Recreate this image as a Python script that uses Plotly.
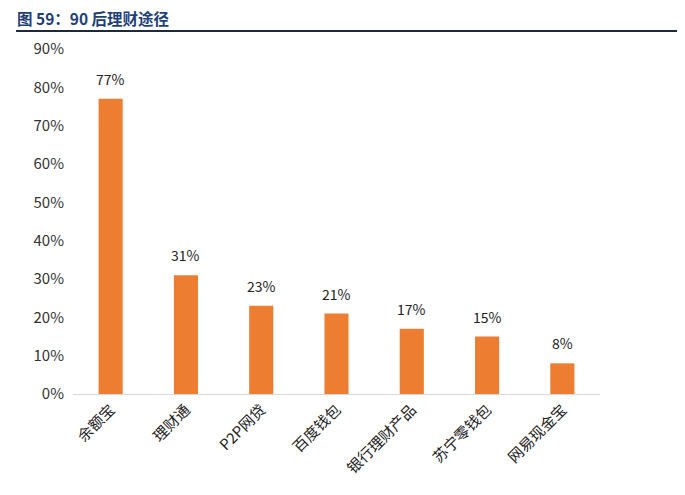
import plotly.graph_objects as go

categories = ["余额宝", "理财通", "P2P网贷", "百度钱包", "银行理财产品", "苏宁零钱包", "网易现金宝"]
values = [77, 31, 23, 21, 17, 15, 8]
y_ticks = [0, 10, 20, 30, 40, 50, 60, 70, 80, 90]
y_tick_labels = [f"{v}%" for v in y_ticks]
title_text = "图 59：90 后理财途径"

FONT = "Noto Sans CJK SC, Noto Sans, sans-serif"

fig = go.Figure()
fig.add_trace(go.Bar(
    x=categories, y=values, width=0.32,
    marker=dict(color="#ED7D31", line=dict(width=0)),
    hoverinfo="skip",
))

for c, v in zip(categories, values):
    fig.add_annotation(x=c, y=v, text=f"{v}%", showarrow=False,
                       yanchor="bottom", yshift=8,
                       font=dict(family=FONT, size=14, color="#222222"))

fig.add_annotation(xref="paper", yref="paper", x=-0.108, y=1.091, xanchor="left", yanchor="middle",
                   text=f"<b>{title_text}</b>", showarrow=False, borderpad=0,
                   font=dict(family=FONT, size=15.5, color="#1F3F7A"))
fig.add_shape(type="line", xref="paper", yref="paper", x0=-0.108, x1=1.156, y0=1.052, y1=1.052,
              line=dict(color="#1E2A3A", width=2))

fig.update_layout(
    width=677, height=487,
    margin=dict(l=65, r=85, t=41, b=101),
    paper_bgcolor="white", plot_bgcolor="white",
    showlegend=False, bargap=0.68,
    font=dict(family=FONT),
)
fig.update_xaxes(showgrid=False, showline=True, linecolor="#D9D9D9", linewidth=1, automargin=False,
                 ticks="", tickangle=-45, tickfont=dict(family=FONT, size=15, color="#222222"))
fig.update_yaxes(range=[0, 90], tickvals=y_ticks, ticktext=y_tick_labels, showgrid=False, automargin=False,
                 showline=False, zeroline=False, ticks="", ticklabelstandoff=8,
                 tickfont=dict(family=FONT, size=15, color="#333333"))

fig.write_html("out.html")
